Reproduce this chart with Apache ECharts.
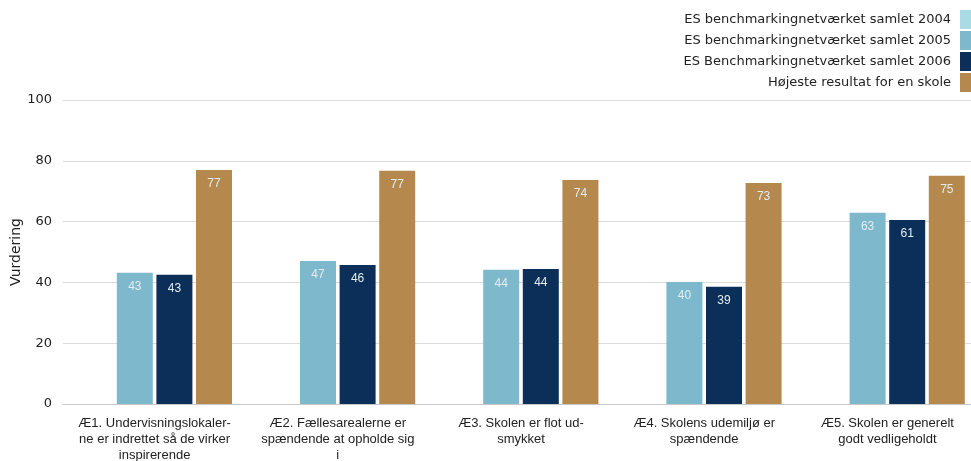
<!DOCTYPE html>
<html><head><meta charset="utf-8">
<script src="https://cdn.jsdelivr.net/npm/echarts@6/dist/echarts.min.js"></script>
<style>html,body{margin:0;padding:0;background:#fff}#c{width:971px;height:461px}</style>
</head><body><div id="c"></div>
<script>
const categories = [
  "Æ1. Undervisningslokaler-\nne er indrettet så de virker\ninspirerende",
  "Æ2. Fællesarealerne er\nspændende at opholde sig\ni",
  "Æ3. Skolen er flot ud-\nsmykket",
  "Æ4. Skolens udemiljø er\nspændende",
  "Æ5. Skolen er generelt\ngodt vedligeholdt"
];
const seriesNames = [
  "ES benchmarkingnetværket samlet 2004",
  "ES benchmarkingnetværket samlet 2005",
  "ES Benchmarkingnetværket samlet 2006",
  "Højeste resultat for en skole"
];
const values2004 = [null, null, null, null, null];
const values2005 = [43.2, 47.0, 44.2, 40.1, 62.9];
const values2006 = [42.5, 45.7, 44.4, 38.6, 60.5];
const valuesHigh = [77.0, 76.7, 73.7, 72.7, 75.1];
const yTicks = [0, 20, 40, 60, 80, 100];
const colors = ["#a8dbe4", "#7eb8cd", "#0b2f58", "#b5894e"];

const chart = echarts.init(document.getElementById('c'));
const allValues = [values2004, values2005, values2006, valuesHigh];
const series = allValues.map((v, i) => ({
  name: seriesNames[i],
  type: 'bar',
  data: v,
  barGap: '10%',
  barCategoryGap: '15.5%',
  itemStyle: { color: colors[i] },
  label: {
    show: true, position: 'insideTop', distance: 8,
    color: '#e3ecf0', fontSize: 12, fontFamily: 'Liberation Sans',
    formatter: p => p.value == null ? '' : Math.round(p.value)
  }
}));
chart.setOption({
  animation: false,
  textStyle: { fontFamily: 'DejaVu Sans' },
  legend: {
    orient: 'vertical', right: -9, top: 5,
    align: 'right', itemWidth: 15, itemHeight: 19, itemGap: 2,
    icon: 'rect',
    textStyle: { fontSize: 13, color: '#222', fontFamily: 'DejaVu Sans', padding: [0, 4, 0, 0] },
    data: seriesNames
  },
  grid: { left: 63, right: -8, top: 100, bottom: 57, containLabel: false, outerBoundsMode: 'none' },
  xAxis: {
    type: 'category', data: categories,
    axisTick: { show: false },
    axisLine: { lineStyle: { color: '#c8c8c8' } },
    axisLabel: { interval: 0, fontSize: 13, color: '#222', fontFamily: 'Liberation Sans', lineHeight: 16, margin: 11 }
  },
  yAxis: {
    type: 'value', min: yTicks[0], max: yTicks[yTicks.length - 1], interval: 20,
    name: 'Vurdering', nameLocation: 'middle', nameGap: 40, nameMoveOverlap: false,
    nameTextStyle: { fontSize: 14, color: '#222', fontFamily: 'DejaVu Sans' },
    axisLabel: { fontSize: 13, color: '#222', margin: 11, fontFamily: 'DejaVu Sans' },
    splitLine: { lineStyle: { color: '#dcdcdc' } },
    axisLine: { show: false }, axisTick: { show: false }
  },
  series
});
</script></body></html>
